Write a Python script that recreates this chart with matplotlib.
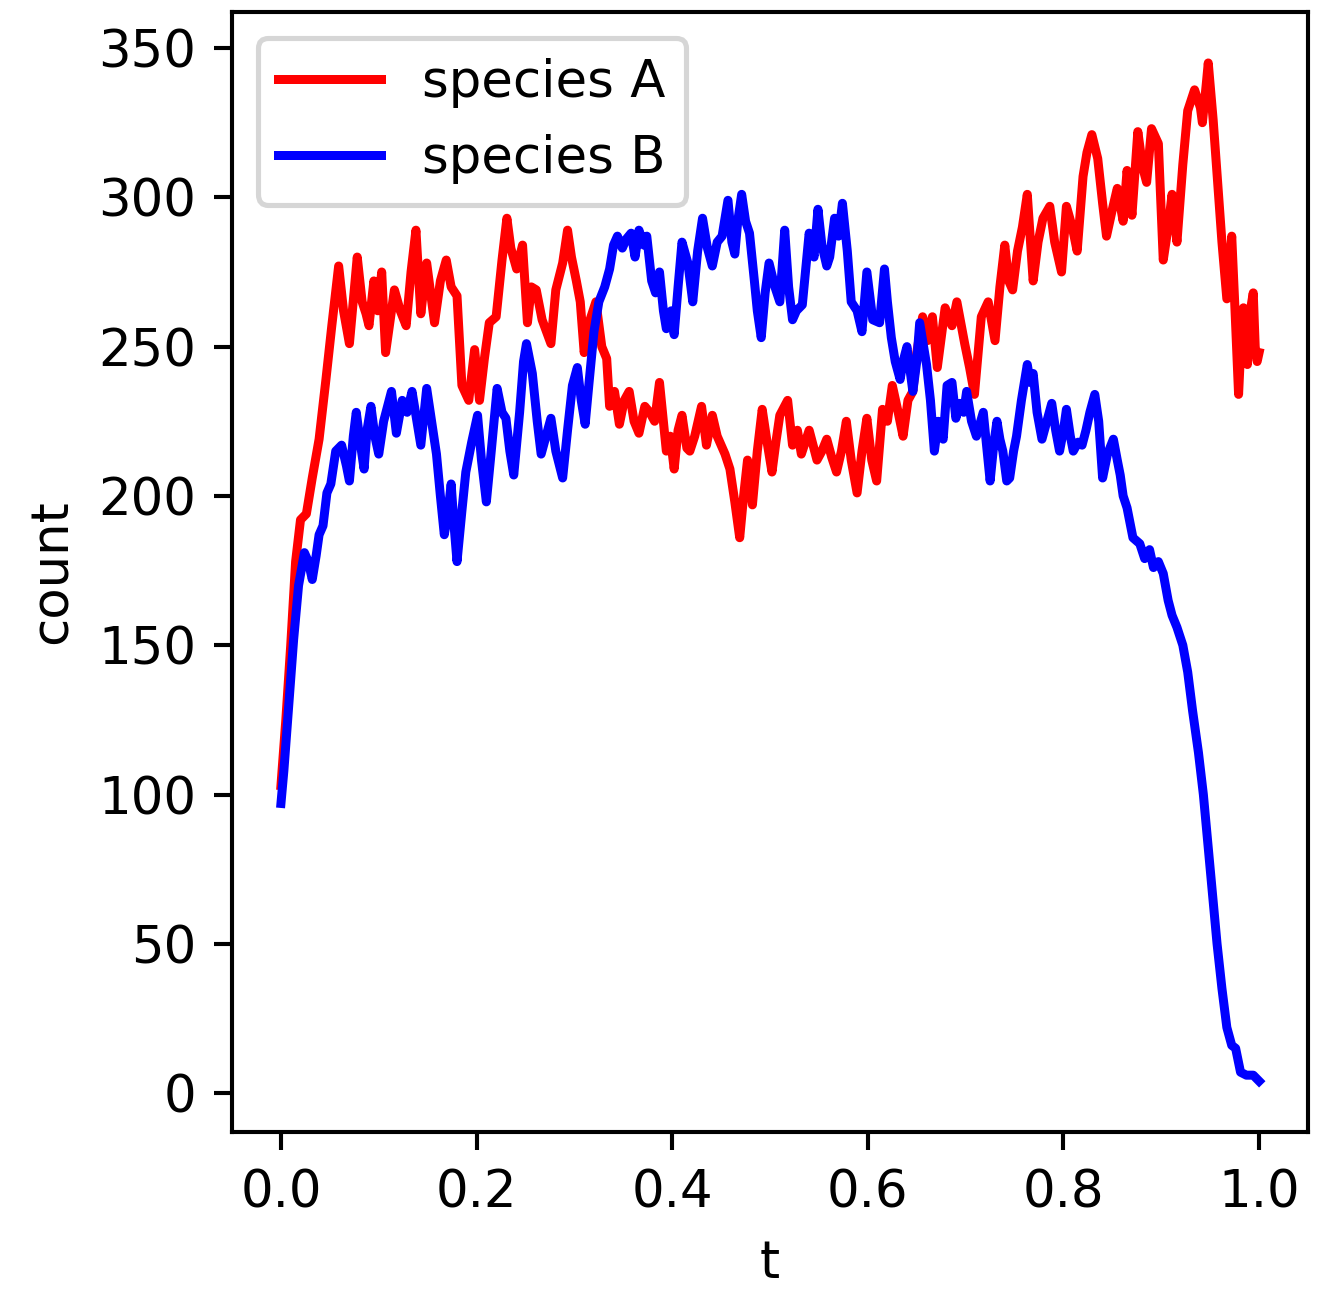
import matplotlib
matplotlib.use("Agg")
import matplotlib.pyplot as plt

# Population counts of two competing species over normalised time t
t_a = [0.000, 0.005, 0.010, 0.015, 0.020, 0.026, 0.032, 0.039, 0.046, 0.052,
       0.059, 0.064, 0.070, 0.078, 0.083, 0.087, 0.090, 0.095, 0.099, 0.103,
       0.107, 0.116, 0.122, 0.128, 0.133, 0.138, 0.143, 0.149, 0.157, 0.163,
       0.169, 0.174, 0.180, 0.185, 0.192, 0.198, 0.203, 0.208, 0.213, 0.220,
       0.226, 0.231, 0.235, 0.241, 0.247, 0.252, 0.256, 0.261, 0.267, 0.276,
       0.281, 0.288, 0.293, 0.297, 0.302, 0.306, 0.310, 0.315, 0.322, 0.328,
       0.333, 0.336, 0.341, 0.346, 0.351, 0.356, 0.361, 0.366, 0.372, 0.377,
       0.382, 0.387, 0.394, 0.398, 0.402, 0.406, 0.410, 0.415, 0.418, 0.423,
       0.430, 0.435, 0.441, 0.446, 0.450, 0.454, 0.459, 0.464, 0.469, 0.473,
       0.477, 0.482, 0.487, 0.492, 0.497, 0.502, 0.506, 0.510, 0.518, 0.523,
       0.528, 0.532, 0.536, 0.540, 0.548, 0.553, 0.558, 0.563, 0.568, 0.573,
       0.578, 0.583, 0.589, 0.594, 0.599, 0.604, 0.609, 0.615, 0.620, 0.625,
       0.631, 0.636, 0.641, 0.646, 0.650, 0.656, 0.661, 0.666, 0.671, 0.679,
       0.686, 0.691, 0.695, 0.699, 0.704, 0.709, 0.716, 0.723, 0.730, 0.735,
       0.740, 0.744, 0.748, 0.753, 0.758, 0.763, 0.769, 0.774, 0.779, 0.786,
       0.791, 0.798, 0.803, 0.809, 0.814, 0.820, 0.824, 0.829, 0.835, 0.840,
       0.844, 0.850, 0.855, 0.861, 0.865, 0.870, 0.876, 0.881, 0.885, 0.890,
       0.897, 0.902, 0.907, 0.911, 0.916, 0.922, 0.927, 0.934, 0.940, 0.942,
       0.946, 0.948, 0.953, 0.957, 0.962, 0.967, 0.972, 0.975, 0.979, 0.982,
       0.984, 0.988, 0.991, 0.994, 0.996, 0.998, 1.000]
count_a = [103, 125, 150, 178, 192, 194, 206, 219, 239, 257,
           277, 262, 251, 280, 265, 261, 257, 272, 262, 275,
           248, 269, 262, 257, 275, 289, 261, 278, 258, 272,
           279, 270, 267, 237, 232, 249, 232, 246, 258, 260,
           279, 293, 283, 276, 284, 258, 270, 269, 259, 251,
           269, 278, 289, 280, 272, 265, 248, 258, 265, 250,
           246, 230, 235, 224, 232, 235, 225, 221, 230, 228,
           225, 238, 215, 220, 209, 222, 227, 216, 215, 220,
           230, 217, 227, 220, 217, 214, 209, 198, 186, 200,
           212, 197, 215, 229, 218, 208, 218, 227, 232, 217,
           222, 214, 218, 222, 212, 215, 219, 213, 208, 215,
           225, 212, 201, 215, 226, 212, 205, 229, 225, 237,
           228, 220, 232, 235, 248, 260, 252, 260, 243, 263,
           257, 265, 258, 251, 243, 234, 260, 265, 252, 270,
           284, 272, 269, 282, 290, 301, 272, 285, 293, 297,
           285, 275, 297, 290, 282, 307, 315, 321, 313, 298,
           287, 296, 303, 292, 309, 294, 322, 310, 305, 323,
           318, 279, 290, 301, 285, 311, 329, 336, 330, 325,
           338, 345, 326, 308, 285, 266, 287, 265, 234, 255,
           263, 244, 262, 268, 250, 245, 248]

t_b = [0.000, 0.003, 0.008, 0.013, 0.018, 0.024, 0.028, 0.032, 0.036, 0.039,
       0.043, 0.047, 0.051, 0.056, 0.062, 0.067, 0.070, 0.074, 0.077, 0.081,
       0.085, 0.088, 0.092, 0.096, 0.100, 0.105, 0.113, 0.118, 0.124, 0.129,
       0.134, 0.139, 0.143, 0.149, 0.154, 0.159, 0.163, 0.167, 0.171, 0.174,
       0.177, 0.180, 0.185, 0.189, 0.195, 0.201, 0.205, 0.210, 0.215, 0.221,
       0.226, 0.230, 0.234, 0.238, 0.244, 0.248, 0.251, 0.257, 0.262, 0.266,
       0.271, 0.276, 0.281, 0.288, 0.293, 0.298, 0.303, 0.307, 0.311, 0.315,
       0.320, 0.325, 0.331, 0.336, 0.340, 0.344, 0.349, 0.353, 0.358, 0.362,
       0.366, 0.371, 0.374, 0.377, 0.379, 0.383, 0.387, 0.391, 0.394, 0.399,
       0.402, 0.406, 0.410, 0.416, 0.421, 0.426, 0.431, 0.436, 0.441, 0.446,
       0.451, 0.457, 0.461, 0.464, 0.467, 0.471, 0.475, 0.479, 0.484, 0.487,
       0.491, 0.495, 0.499, 0.505, 0.510, 0.515, 0.519, 0.523, 0.527, 0.533,
       0.540, 0.545, 0.549, 0.553, 0.558, 0.561, 0.566, 0.570, 0.574, 0.579,
       0.583, 0.589, 0.594, 0.599, 0.605, 0.612, 0.617, 0.620, 0.624, 0.628,
       0.633, 0.636, 0.640, 0.646, 0.650, 0.653, 0.657, 0.660, 0.664, 0.668,
       0.672, 0.677, 0.681, 0.686, 0.690, 0.694, 0.698, 0.701, 0.706, 0.711,
       0.718, 0.722, 0.725, 0.729, 0.732, 0.735, 0.738, 0.742, 0.745, 0.749,
       0.752, 0.757, 0.763, 0.766, 0.769, 0.773, 0.778, 0.783, 0.788, 0.792,
       0.796, 0.800, 0.803, 0.807, 0.810, 0.815, 0.819, 0.823, 0.827, 0.832,
       0.836, 0.840, 0.845, 0.851, 0.855, 0.858, 0.861, 0.865, 0.871, 0.878,
       0.883, 0.888, 0.892, 0.897, 0.902, 0.907, 0.911, 0.916, 0.922, 0.927,
       0.932, 0.938, 0.943, 0.948, 0.953, 0.957, 0.962, 0.967, 0.972, 0.976,
       0.981, 0.987, 0.994, 1.000]
count_b = [97, 108, 130, 152, 170, 181, 178, 172, 180, 187,
           190, 201, 204, 215, 217, 210, 205, 220, 228, 218,
           209, 222, 230, 220, 214, 225, 235, 221, 232, 228,
           235, 225, 217, 236, 225, 214, 200, 187, 195, 204,
           190, 178, 195, 208, 218, 227, 212, 198, 215, 236,
           228, 226, 215, 207, 228, 245, 251, 241, 225, 214,
           220, 226, 215, 206, 222, 237, 243, 232, 224, 238,
           255, 265, 270, 276, 284, 287, 283, 286, 288, 280,
           289, 284, 287, 278, 272, 268, 275, 262, 256, 262,
           254, 270, 285, 278, 265, 282, 293, 283, 277, 285,
           287, 299, 285, 281, 292, 301, 292, 288, 272, 262,
           253, 268, 278, 270, 265, 289, 270, 259, 262, 264,
           288, 280, 296, 284, 277, 280, 293, 287, 298, 282,
           265, 262, 255, 275, 259, 258, 276, 265, 253, 245,
           239, 245, 250, 235, 245, 258, 250, 244, 232, 215,
           225, 219, 237, 238, 226, 231, 228, 235, 225, 220,
           228, 215, 205, 218, 225, 219, 215, 205, 206, 215,
           220, 232, 244, 238, 241, 228, 219, 225, 231, 222,
           215, 222, 229, 220, 215, 218, 217, 222, 228, 234,
           225, 206, 214, 219, 212, 207, 200, 196, 186, 184,
           179, 182, 176, 178, 174, 165, 160, 156, 150, 141,
           128, 114, 100, 82, 64, 50, 35, 22, 16, 15,
           7, 6, 6, 4]

DPI = 370
fig = plt.figure(figsize=(1332 / DPI, 1296 / DPI), dpi=DPI)
ax = fig.add_axes([0.1742, 0.1265, 0.8078, 0.8642])

ax.plot(t_a, count_a, color="red", lw=1.75, label="species A")
ax.plot(t_b, count_b, color="blue", lw=1.75, label="species B")

ax.set_xlabel("t")
ax.set_ylabel("count")
ax.legend(loc="upper left")

fig.savefig("out.png", dpi=DPI)
